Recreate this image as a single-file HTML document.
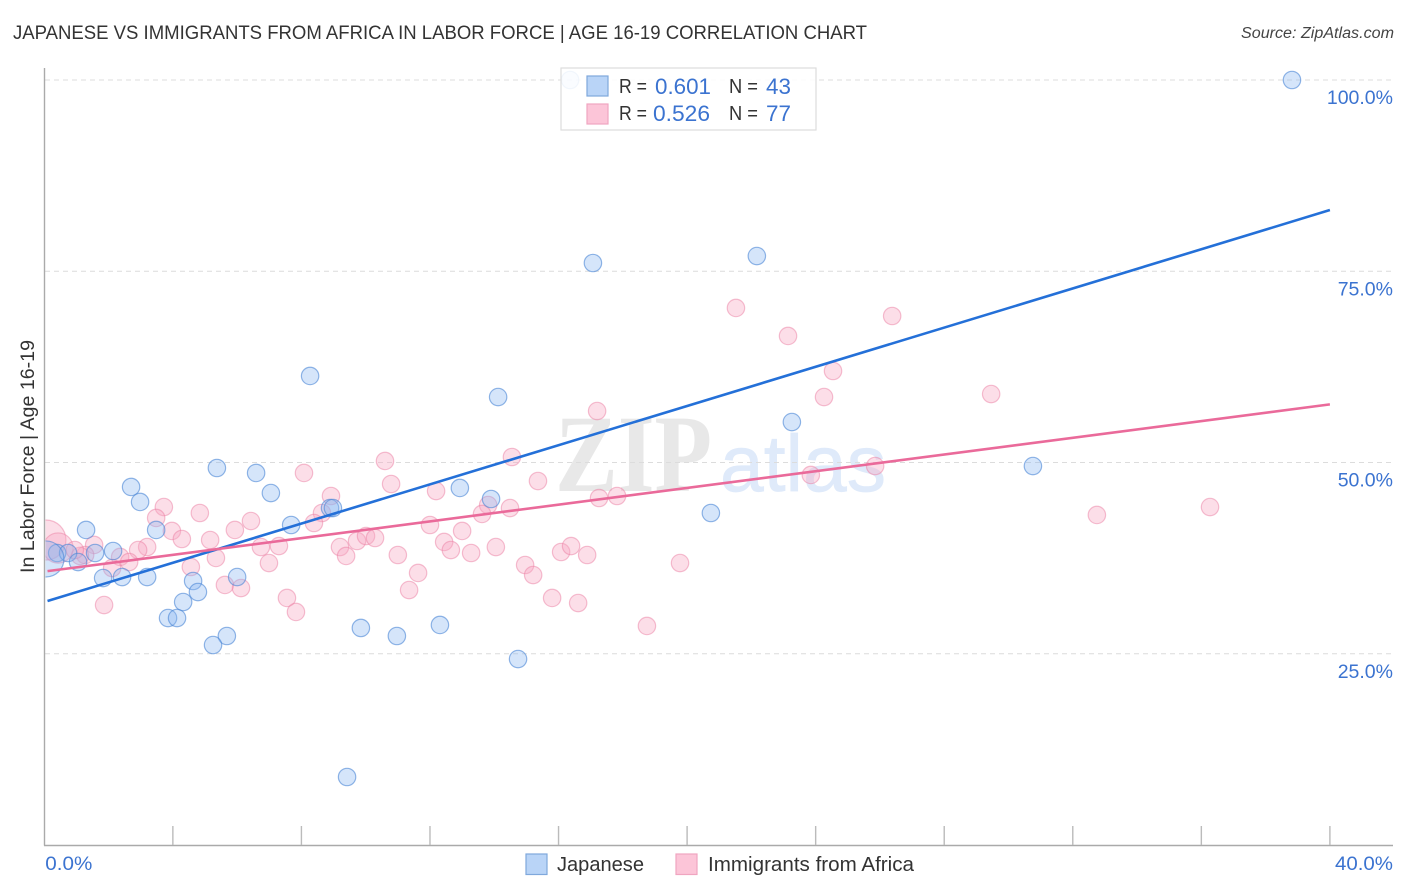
<!DOCTYPE html>
<html lang="en">
<head>
<meta charset="utf-8">
<title>Japanese vs Immigrants from Africa in Labor Force | Age 16-19 Correlation Chart</title>
<style>
html,body{margin:0;padding:0;background:#fff;}
svg{display:block;font-family:"Liberation Sans",sans-serif;}
</style>
</head>
<body>
<svg id="chart" xmlns="http://www.w3.org/2000/svg" width="1406" height="892" viewBox="0 0 1406 892">
  <rect x="0" y="0" width="1406" height="892" fill="#fff"/>
  <text x="13" y="39" font-size="19.5" fill="#333" textLength="854" lengthAdjust="spacingAndGlyphs">JAPANESE VS IMMIGRANTS FROM AFRICA IN LABOR FORCE | AGE 16-19 CORRELATION CHART</text>
  <text x="1241" y="38" font-size="15.5" font-style="italic" fill="#444" textLength="153" lengthAdjust="spacingAndGlyphs">Source: ZipAtlas.com</text>
  <g>
    <text x="555" y="491" font-family="'Liberation Serif',serif" font-weight="bold" font-size="110" fill="#e8e8e8" textLength="157" lengthAdjust="spacingAndGlyphs">ZIP</text>
    <text x="720" y="491" font-size="80" fill="#dfeafa" stroke="#dfeafa" stroke-width="0.7" textLength="166" lengthAdjust="spacingAndGlyphs">atlas</text>
  </g>
  <g id="grid"></g>
  <g id="points"></g>
  <rect x="0" y="490" width="45.5" height="120" fill="#fff"/>
  <g id="axes"></g>
  <g id="lines"></g>
  <g id="labels"></g>
  <text transform="translate(34,573) rotate(-90)" font-size="19.5" fill="#333" textLength="233" lengthAdjust="spacingAndGlyphs">In Labor Force | Age 16-19</text>
  <g>
    <rect x="561" y="68" width="255" height="62" fill="#fff" fill-opacity="0.88" stroke="#ddd" stroke-width="1.2"/>
    <rect x="587" y="76" width="21" height="20" fill="#b9d4f7" stroke="#7fa8dc" stroke-width="1.2"/>
    <rect x="587" y="104" width="21" height="20" fill="#fcc5d8" stroke="#f0a5c0" stroke-width="1.2"/>
    <g font-size="20" fill="#333">
      <text x="619" y="93" textLength="28" lengthAdjust="spacingAndGlyphs">R =</text>
      <text x="729" y="93" textLength="29" lengthAdjust="spacingAndGlyphs">N =</text>
      <text x="619" y="120" textLength="28" lengthAdjust="spacingAndGlyphs">R =</text>
      <text x="729" y="120" textLength="29" lengthAdjust="spacingAndGlyphs">N =</text>
    </g>
    <g font-size="22" fill="#3b73d0">
      <text x="655" y="94" textLength="56" lengthAdjust="spacingAndGlyphs">0.601</text>
      <text x="766" y="94" textLength="25" lengthAdjust="spacingAndGlyphs">43</text>
      <text x="653" y="121" textLength="57" lengthAdjust="spacingAndGlyphs">0.526</text>
      <text x="766" y="121" textLength="25" lengthAdjust="spacingAndGlyphs">77</text>
    </g>
  </g>
  <g>
    <rect x="526" y="854" width="21" height="20.5" fill="#b9d4f7" stroke="#7fa8dc" stroke-width="1.2"/>
    <text x="557" y="871" font-size="20" fill="#333" textLength="87" lengthAdjust="spacingAndGlyphs">Japanese</text>
    <rect x="676" y="854" width="21" height="20.5" fill="#fcc5d8" stroke="#f0a5c0" stroke-width="1.2"/>
    <text x="708" y="871" font-size="20" fill="#333" textLength="206" lengthAdjust="spacingAndGlyphs">Immigrants from Africa</text>
  </g>
</svg>
<script>
const xTickValues = [4, 8, 12, 16, 20, 24, 28, 32, 36, 40];
const yGridValues = [25, 50, 75, 100];
const yTickLabels = ["25.0%", "50.0%", "75.0%", "100.0%"];
const xEndLabels = ["0.0%", "40.0%"];
const xEndValues = [0, 40];

const japaneseX = [16.36,38.82,17.07,22.17,8.27,14.12,23.26,30.76,5.37,6.59,2.70,7.05,2.98,12.93,13.90,20.74,8.89,8.98,7.68,3.48,1.30,2.14,1.58,0.40,0.74,1.05,0.05,1.83,2.42,3.20,4.63,6.00,4.78,4.32,3.85,4.13,5.68,5.25,9.85,10.97,12.31,14.74,9.42];
const japaneseY = [100,100,76.08,76.99,61.31,58.56,55.29,49.54,49.28,48.63,46.80,46.01,44.84,46.67,45.23,43.40,44.05,44.05,41.83,41.18,41.18,38.43,38.17,38.17,38.17,36.99,37.39,34.90,35.03,35.03,34.51,35.03,33.07,31.76,29.67,29.67,27.32,26.14,28.37,27.32,28.76,24.31,8.89];
const japaneseLargeIndex = [26];
const japaneseLargeWeight = [4.3];

const immigrantsX = [3.72,3.48,4.84,3.97,4.28,5.93,6.43,5.16,1.55,3.20,2.92,2.36,2.64,2.11,1.27,1.11,4.56,5.34,6.74,7.30,6.99,5.62,6.12,7.55,7.83,1.86,0.05,0.43,8.08,8.92,8.64,8.39,10.60,10.79,12.19,13.81,13.62,12.00,13.00,12.44,12.65,13.28,14.05,14.55,15.36,17.20,17.26,17.82,16.08,16.39,16.89,14.96,15.21,15.80,16.61,18.75,19.78,21.52,23.14,26.38,24.54,24.26,29.46,25.85,23.85,32.75,36.27,9.20,9.39,9.73,10.01,10.29,11.00,11.63,11.35,14.49,0.95];
const immigrantsY = [44.18,42.75,43.40,41.05,40.00,41.18,42.35,39.87,39.22,38.95,38.56,37.65,36.99,36.20,37.91,37.78,36.34,37.52,38.95,39.08,36.86,33.99,33.59,32.29,30.46,31.37,39.87,38.82,48.63,45.62,43.40,42.09,50.20,47.19,46.27,44.44,43.27,41.83,41.05,39.61,38.56,38.17,38.95,50.72,47.58,56.73,45.36,45.62,38.30,39.08,37.91,36.60,35.29,32.29,31.63,28.63,36.86,70.20,66.54,69.15,61.96,58.56,58.95,49.54,48.37,43.14,44.18,38.95,37.78,39.74,40.39,40.13,37.91,35.56,33.33,44.05,38.56];
const immigrantsLargeIndex = [26, 27];
const immigrantsLargeWeight = [5.3, 3.0];

const trendXJapanese = [0.1, 40];
const trendYJapanese = [31.9, 83.0];
const trendXImmigrants = [0.1, 40];
const trendYImmigrants = [35.8, 57.6];

const NS = "http://www.w3.org/2000/svg";
function xScale(v) { return 44.3 + v * 32.14; }
function yScale(v) { return 845 - v * 7.65; }
function make(tag, parent, attrs, text) {
  const el = document.createElementNS(NS, tag);
  for (const k in attrs) el.setAttribute(k, attrs[k]);
  if (text !== undefined) el.textContent = text;
  parent.appendChild(el);
  return el;
}
const grid = document.getElementById("grid");
const axes = document.getElementById("axes");
const pointsG = document.getElementById("points");
const linesG = document.getElementById("lines");
const labels = document.getElementById("labels");

yGridValues.forEach(function (v, i) {
  const g = make("line", grid, {x1: 45, x2: 1393, y1: yScale(v), y2: yScale(v), stroke: "#dcdcdc", "stroke-width": 1, "stroke-dasharray": "5 4"});
  
  
  const t = make("text", labels, {x: 1393, y: yScale(v) + 24, "font-size": 19.5, fill: "#3b73d0", "text-anchor": "end"}, yTickLabels[i]);
  
  
});

const yAxis = make("line", axes, {x1: 44.5, x2: 44.5, y1: 68, y2: 845.5, stroke: "#aaa", "stroke-width": 1.4});


const xAxis = make("line", axes, {x1: 44, x2: 1393, y1: 845.5, y2: 845.5, stroke: "#aaa", "stroke-width": 1.4});


xTickValues.forEach(function (v) {
  const tk = make("line", axes, {x1: xScale(v), x2: xScale(v), y1: 826, y2: 845, stroke: "#bbb", "stroke-width": 1.4});
  
  
});
xEndValues.forEach(function (v, i) {
  const t = make("text", labels, {x: i === 0 ? xScale(v) + 1 : 1335, y: 870, "font-size": 19.5, fill: "#3b73d0", textLength: i === 0 ? 47 : 58, lengthAdjust: "spacingAndGlyphs"}, xEndLabels[i]);
  
  
});

function radius(i, largeIdx, largeWeight) {
  const k = largeIdx.indexOf(i);
  return 8.7 * Math.sqrt(k >= 0 ? largeWeight[k] : 1);
}
immigrantsX.forEach(function (v, i) {
  const c = make("circle", pointsG, {cx: xScale(v), cy: yScale(immigrantsY[i]), r: radius(i, immigrantsLargeIndex, immigrantsLargeWeight), fill: "#f8a9c2", "fill-opacity": 0.38, stroke: "#ec7fa3", "stroke-opacity": 0.5, "stroke-width": 1.2});
  
  
});
japaneseX.forEach(function (v, i) {
  const c = make("circle", pointsG, {cx: xScale(v), cy: yScale(japaneseY[i]), r: radius(i, japaneseLargeIndex, japaneseLargeWeight), fill: "#8ab6f0", "fill-opacity": 0.36, stroke: "#4a85d6", "stroke-opacity": 0.6, "stroke-width": 1.2});
  
  
});

const trendBlue = make("line", linesG, {x1: xScale(trendXJapanese[0]), y1: yScale(trendYJapanese[0]), x2: xScale(trendXJapanese[1]), y2: yScale(trendYJapanese[1]), stroke: "#2470d8", "stroke-width": 2.6});


const trendPink = make("line", linesG, {x1: xScale(trendXImmigrants[0]), y1: yScale(trendYImmigrants[0]), x2: xScale(trendXImmigrants[1]), y2: yScale(trendYImmigrants[1]), stroke: "#ea6a9a", "stroke-width": 2.6});


</script>
</body>
</html>
